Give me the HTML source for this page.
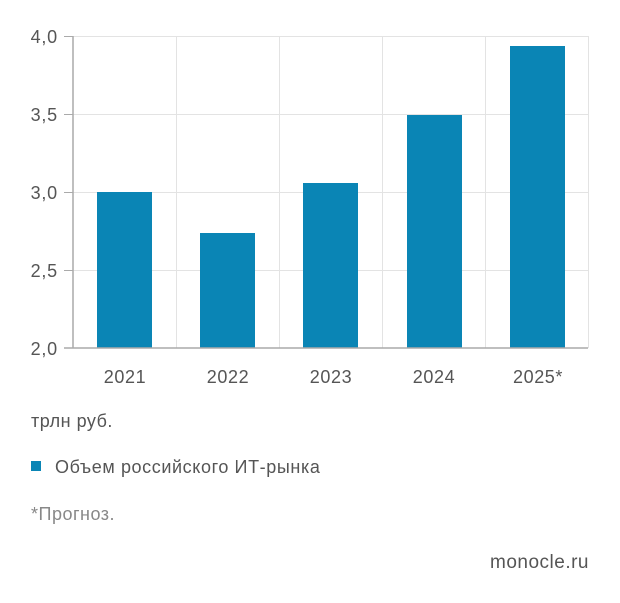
<!DOCTYPE html>
<html><head><meta charset="utf-8"><style>
body{margin:0;background:#fff;}
svg text{font-family:"Liberation Sans","DejaVu Sans",sans-serif;fill:#555;}
</style></head><body>
<svg width="620" height="598" xmlns="http://www.w3.org/2000/svg">
<g stroke="#e3e3e3" stroke-width="1">
<line x1="73" y1="36.5" x2="588" y2="36.5"/>
<line x1="73" y1="114.5" x2="588" y2="114.5"/>
<line x1="73" y1="192.5" x2="588" y2="192.5"/>
<line x1="73" y1="270.5" x2="588" y2="270.5"/>
<line x1="176.5" y1="36" x2="176.5" y2="348"/>
<line x1="279.5" y1="36" x2="279.5" y2="348"/>
<line x1="382.5" y1="36" x2="382.5" y2="348"/>
<line x1="485.5" y1="36" x2="485.5" y2="348"/>
<line x1="588.5" y1="36" x2="588.5" y2="348"/>
</g>
<g fill="#0a85b5">
<rect x="97" y="192" width="55" height="156"/>
<rect x="200" y="233" width="55" height="115"/>
<rect x="303" y="183" width="55" height="165"/>
<rect x="407" y="115" width="55" height="233"/>
<rect x="510" y="46" width="55" height="302"/>
</g>
<g stroke="#aaa" stroke-width="1.5">
<line x1="73" y1="36" x2="73" y2="348"/>
<line x1="64" y1="348" x2="588" y2="348"/>
<line x1="64" y1="36.5" x2="73" y2="36.5" stroke-width="1"/>
<line x1="64" y1="114.5" x2="73" y2="114.5" stroke-width="1"/>
<line x1="64" y1="192.5" x2="73" y2="192.5" stroke-width="1"/>
<line x1="64" y1="270.5" x2="73" y2="270.5" stroke-width="1"/>
</g>
<g font-size="18" text-anchor="end" letter-spacing="0.8">
<text x="58" y="43">4,0</text>
<text x="58" y="121">3,5</text>
<text x="58" y="199">3,0</text>
<text x="58" y="277">2,5</text>
<text x="58" y="355">2,0</text>
</g>
<g font-size="18" text-anchor="middle" letter-spacing="0.6">
<text x="125" y="383">2021</text>
<text x="228" y="383">2022</text>
<text x="331" y="383">2023</text>
<text x="434" y="383">2024</text>
<text x="538" y="383">2025*</text>
</g>
<text x="31" y="427" font-size="18" letter-spacing="0.5">трлн руб.</text>
<rect x="31" y="461" width="10" height="10" fill="#0a85b5"/>
<text x="55" y="473" font-size="18" letter-spacing="0.6">Объем российского ИТ-рынка</text>
<text x="31" y="520" font-size="18" letter-spacing="0.5" style="fill:#888">*Прогноз.</text>
<text x="589" y="568" font-size="19" text-anchor="end" letter-spacing="0.5">monocle.ru</text>
</svg>
</body></html>
